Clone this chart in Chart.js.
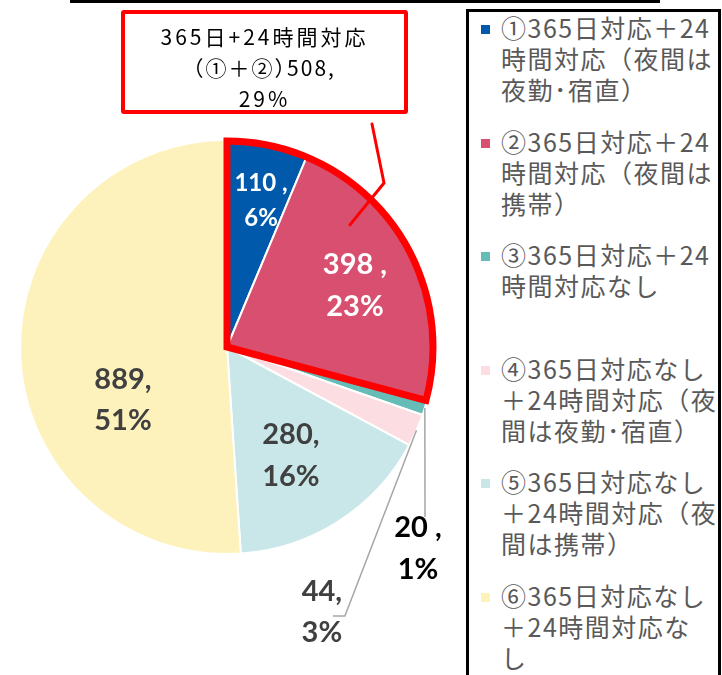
<!DOCTYPE html>
<html>
<head>
<meta charset="utf-8">
<script src="https://cdn.jsdelivr.net/npm/chart.js@4.4.0/dist/chart.umd.min.js"></script>
<style>
  html, body { margin: 0; padding: 0; background: #fff; overflow: hidden; }
  #wrap { position: relative; width: 722px; height: 675px; overflow: hidden; }
  #chartBox { position: absolute; left: 0; top: 0; width: 722px; height: 675px; }
  #topLine { position: absolute; left: 70px; top: 0; width: 590px; height: 3px; background: #000; }
  #callout {
    position: absolute; left: 121px; top: 10px; width: 287px; height: 104px;
    box-sizing: border-box; border: 4px solid #f00; border-radius: 3px; background: #fff;
  }
  #calloutText {
    position: absolute; left: 0; right: 0; top: 7px; text-align: center;
    font-family: "Noto Sans CJK JP"; font-size: 21px; letter-spacing: 3px;
    line-height: 31px; color: #000; white-space: nowrap;
  }
  #calloutText .narrow { font-feature-settings: "halt"; letter-spacing: 2px; }
  #legendBox {
    position: absolute; left: 466px; top: 9px; width: 255px; height: 760px;
    box-sizing: border-box; border: 3px solid #000; background: #fff;
  }
  .lgMark { position: absolute; left: 481px; width: 9px; height: 9px; }
  .lgText {
    position: absolute; left: 501px; font-family: "Noto Sans CJK JP"; font-size: 25px;
    letter-spacing: 1.5px; line-height: 31px; color: #595959; white-space: nowrap;
  }
</style>
</head>
<body>
<div id="wrap">
  <div id="chartBox"><canvas id="pie"></canvas></div>
  <div id="topLine"></div>
  <div id="callout"><div id="calloutText"></div></div>
  <div id="legendBox"></div>
</div>
<script>
// categories (legend lines as shown in the picture)
const categories = [
  ['①365日対応＋24', '時間対応（夜間は', '夜勤･宿直）'],
  ['②365日対応＋24', '時間対応（夜間は', '携帯）'],
  ['③365日対応＋24', '時間対応なし'],
  ['④365日対応なし', '＋24時間対応（夜', '間は夜勤･宿直）'],
  ['⑤365日対応なし', '＋24時間対応（夜', '間は携帯）'],
  ['⑥365日対応なし', '＋24時間対応な', 'し']
];
const values = [110, 398, 20, 44, 280, 889];
const separators = [' ,', ' ,', ' ,', ',', ',', ','];
const calloutTitle = '365日+24時間対応';
const calloutGroup = '（①＋②）';
const highlighted = [0, 1];

const sliceColors = ['#0059AA', '#D94F70', '#66BDB8', '#FCDDE1', '#C9E7E8', '#FEF2BC'];
const labelColors = ['#fff', '#fff', '#000', '#404040', '#404040', '#404040'];
// label placement: angle from 12 o'clock (deg), radius fraction, font px, line gap
const labelPos = [
  [13.1, 0.725, 24, 35],
  [64.5, 0.685, 29, 42],
  [136.6, 1.343, 29, 42],
  [160.3, 1.36, 29, 41],
  [149.6, 0.61, 29, 42],
  [243, 0.564, 29, 41]
];
// leader lines, offsets from label centre
const leaders = { 2: [[7, -32]], 3: [[23, 4], [11, 4]] };

const total = values.reduce((a, b) => a + b, 0);
const pct = v => Math.round(v / total * 100) + '%';

// callout text
const hlSum = highlighted.reduce((s, i) => s + values[i], 0);
document.getElementById('calloutText').innerHTML =
  calloutTitle + '<br><span class="narrow">' + calloutGroup + hlSum + ',</span><br>' + pct(hlSum);

// legend
const wrap = document.getElementById('wrap');
categories.forEach((lines, i) => {
  const top = 14 + 113.6 * i;
  const mk = document.createElement('div');
  mk.className = 'lgMark';
  mk.style.top = (top + 11) + 'px';
  mk.style.background = sliceColors[i];
  wrap.appendChild(mk);
  const tx = document.createElement('div');
  tx.className = 'lgText';
  tx.style.top = (top - 2) + 'px';
  tx.innerHTML = lines.join('<br>');
  wrap.appendChild(tx);
});

function polar(arc, deg, r) {
  const a = deg * Math.PI / 180;
  return [arc.x + r * Math.sin(a), arc.y - r * Math.cos(a)];
}

const overlay = {
  id: 'overlay',
  afterDatasetsDraw(chart) {
    const ctx = chart.ctx;
    const arcs = chart.getDatasetMeta(0).data;
    const c = arcs[0];
    const R = c.outerRadius;

    // red outline round slices 1+2
    const a0 = arcs[highlighted[0]].startAngle;
    const a1 = arcs[highlighted[highlighted.length - 1]].endAngle;
    const rr = R - 1;
    ctx.save();
    ctx.beginPath();
    ctx.moveTo(c.x, c.y);
    ctx.lineTo(c.x + rr * Math.cos(a0), c.y + rr * Math.sin(a0));
    ctx.arc(c.x, c.y, rr, a0, a1);
    ctx.closePath();
    ctx.lineWidth = 7;
    ctx.lineJoin = 'miter';
    ctx.strokeStyle = '#f00';
    ctx.stroke();

    // callout leader
    const end = polar(c, 45.2, R * 0.837);
    ctx.beginPath();
    ctx.moveTo(372, 124);
    ctx.lineTo(384, 183);
    ctx.lineTo(end[0], end[1]);
    ctx.lineWidth = 3;
    ctx.lineCap = 'round';
    ctx.stroke();

    // data labels
    arcs.forEach((arc, i) => {
      const [deg, rf, fs, gap] = labelPos[i];
      const [lx, ly] = polar(arc, deg, R * rf);
      if (leaders[i]) {
        const mid = (arc.startAngle + arc.endAngle) / 2;
        ctx.beginPath();
        ctx.moveTo(arc.x + R * Math.cos(mid), arc.y + R * Math.sin(mid));
        leaders[i].forEach(p => ctx.lineTo(lx + p[0], ly + p[1]));
        ctx.lineWidth = 1.5;
        ctx.lineCap = 'butt';
        ctx.strokeStyle = '#A6A6A6';
        ctx.stroke();
      }
      ctx.fillStyle = labelColors[i];
      ctx.font = 'bold ' + fs + 'px Lato';
      ctx.textAlign = 'center';
      ctx.textBaseline = 'middle';
      ctx.fillText(values[i] + separators[i], lx, ly - gap / 2);
      ctx.fillText(pct(values[i]), lx, ly + gap / 2);
    });
    ctx.restore();
  }
};

new Chart(document.getElementById('pie'), {
  type: 'pie',
  data: {
    labels: categories.map(l => l.join('')),
    datasets: [{
      data: values,
      backgroundColor: sliceColors,
      borderColor: '#fff',
      borderWidth: 2
    }]
  },
  options: {
    responsive: true,
    maintainAspectRatio: false,
    animation: false,
    events: [],
    layout: { padding: { left: 19, top: 139, right: 287, bottom: 120 } },
    plugins: { legend: { display: false }, tooltip: { enabled: false } }
  },
  plugins: [overlay]
});
</script>
</body>
</html>
